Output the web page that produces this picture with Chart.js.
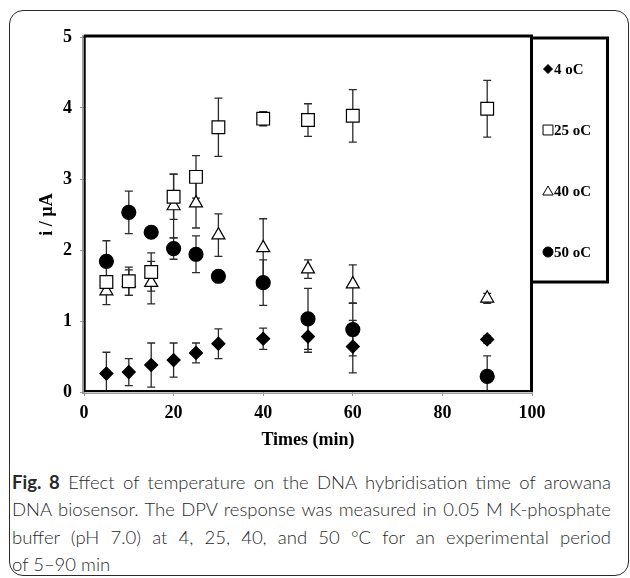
<!DOCTYPE html>
<html>
<head>
<meta charset="utf-8">
<script src="https://cdn.jsdelivr.net/npm/chart.js@4"></script>
<style>
  html, body { margin: 0; padding: 0; background: #fff; }
  body { width: 630px; height: 578px; position: relative; overflow: hidden; }
  .card {
    position: absolute; left: 9px; top: 10px; width: 620px; height: 566px;
    border: 1.5px solid #2a2a2a; border-radius: 14px; box-sizing: border-box;
  }
  #wrap { position: absolute; left: 10px; top: 10px; width: 618px; height: 450px; }
  .caption {
    position: absolute; left: 12px; top: 469px; width: 599px;
    font-family: Lato, "Open Sans", sans-serif; font-weight: 300; font-size: 18.5px; line-height: 27.4px; color: #2a2a2a;
  }
  .caption div { white-space: nowrap; text-align: justify; text-align-last: justify; }
  .caption div.last { text-align: left; text-align-last: left; }
  .caption b { font-weight: 700; }
</style>
</head>
<body>
<div class="card"></div>
<div id="wrap"><canvas id="chart" width="618" height="450"></canvas></div>
<div class="caption">
  <div><b>Fig. 8</b> Effect of temperature on the DNA hybridisation time of arowana</div>
  <div>DNA biosensor. The DPV response was measured in 0.05 M K-phosphate</div>
  <div>buffer (pH 7.0) at 4, 25, 40, and 50 °C for an experimental period</div>
  <div class="last">of 5–90 min</div>
</div>
<script>
// Hybridisation times (min)
const times = [5, 10, 15, 20, 25, 30, 40, 50, 60, 90];

// Mean current (µA) and standard deviation at each temperature
const current4 = [0.26, 0.28, 0.38, 0.45, 0.55, 0.68, 0.75, 0.78, 0.64, 0.74];
const error4   = [0.30, 0.19, 0.31, 0.24, 0.14, 0.21, 0.15, 0.22, 0.37, 0.05];

const current25 = [1.55, 1.56, 1.69, 2.75, 3.03, 3.73, 3.85, 3.83, 3.89, 3.99];
const error25   = [0.08, 0.20, 0.27, 0.32, 0.30, 0.41, 0.10, 0.23, 0.37, 0.40];

const current40 = [1.42, 1.54, 1.54, 2.62, 2.66, 2.21, 2.03, 1.73, 1.52, 1.32];
const error40   = [0.19, 0.18, 0.30, 0.45, 0.35, 0.30, 0.41, 0.13, 0.27, 0.07];

const current50 = [1.84, 2.53, 2.25, 2.02, 1.94, 1.63, 1.54, 1.03, 0.88, 0.22];
const error50   = [0.29, 0.30, 0.07, 0.15, 0.26, 0.08, 0.32, 0.43, 0.37, 0.29];

const seriesLabels = ['4 oC', '25 oC', '40 oC', '50 oC'];
const xTickValues = [0, 20, 40, 60, 80, 100];
const yTickValues = [0, 1, 2, 3, 4, 5];

const serif = "'Liberation Serif', 'Times New Roman', serif";

function points(values) {
  return times.map((t, i) => ({ x: t, y: values[i] }));
}

// Vertical error bars with caps, drawn behind the markers
const errorBars = {
  id: 'errorBars',
  beforeDatasetsDraw(chart) {
    const { ctx, chartArea: a, scales: { x, y } } = chart;
    ctx.save();
    ctx.beginPath();
    ctx.rect(a.left, a.top, a.right - a.left, a.bottom - a.top);
    ctx.clip();
    ctx.strokeStyle = '#2b2b2b';
    ctx.lineWidth = 1.3;
    chart.data.datasets.forEach(ds => {
      ds.data.forEach((p, i) => {
        const e = ds.errors[i];
        const px = x.getPixelForValue(p.x);
        const top = y.getPixelForValue(p.y + e);
        const bot = y.getPixelForValue(p.y - e);
        ctx.beginPath();
        ctx.moveTo(px, top); ctx.lineTo(px, bot);
        ctx.moveTo(px - 4, top); ctx.lineTo(px + 4, top);
        ctx.moveTo(px - 4, bot); ctx.lineTo(px + 4, bot);
        ctx.stroke();
      });
    });
    ctx.restore();
  }
};

// Plot frame: heavy top/right edges, doubled left/bottom axis lines
const plotFrame = {
  id: 'plotFrame',
  beforeDatasetsDraw(chart) {
    const { ctx, chartArea: a } = chart;
    ctx.save();
    ctx.lineCap = 'butt';
    ctx.strokeStyle = '#9a9a9a';
    ctx.lineWidth = 1.4;
    ctx.beginPath();
    ctx.moveTo(a.left - 1.3, a.top - 2); ctx.lineTo(a.left - 1.3, a.bottom + 1.3);
    ctx.lineTo(a.right, a.bottom + 1.3);
    ctx.stroke();
    ctx.strokeStyle = '#000';
    ctx.lineWidth = 2;
    ctx.beginPath();
    ctx.moveTo(a.left + 0.7, a.top - 1); ctx.lineTo(a.left + 0.7, a.bottom - 1);
    ctx.lineTo(a.right, a.bottom - 1);
    ctx.stroke();
    ctx.lineWidth = 3;
    ctx.beginPath();
    ctx.moveTo(a.left - 0.3, a.top - 1); ctx.lineTo(a.right + 1, a.top - 1);
    ctx.moveTo(a.right - 0.5, a.top - 2.5); ctx.lineTo(a.right - 0.5, a.bottom);
    ctx.stroke();
    ctx.restore();
  }
};

// Boxed legend at the right of the plot
const legendBox = {
  id: 'legendBox',
  afterDraw(chart) {
    const { ctx, chartArea: a } = chart;
    const left = a.right - 0.5, top = a.top + 1, w = 76, h = 244;
    ctx.save();
    ctx.strokeStyle = '#000';
    ctx.lineWidth = 3;
    ctx.strokeRect(left, top, w, h);
    ctx.font = 'bold 15px ' + serif;
    ctx.textBaseline = 'middle';
    ctx.textAlign = 'left';
    ctx.fillStyle = '#000';
    const markerSize = [4.5, 7, 6, 5];
    chart.data.datasets.forEach((ds, i) => {
      const cy = top + 31 + i * 61;
      const mx = left + 16.5;
      ctx.fillStyle = ds.pointBackgroundColor;
      ctx.strokeStyle = ds.pointBorderColor;
      ctx.lineWidth = 1;
      Chart.helpers.drawPoint(ctx, { pointStyle: ds.pointStyle, radius: markerSize[i], rotation: 0, borderWidth: 1 }, mx, cy + (ds.pointStyle === 'triangle' ? 1 : 0));
      ctx.fillStyle = '#000';
      ctx.fillText(ds.label, mx + 6, cy + 1);
    });
    ctx.restore();
  }
};

const datasetStyle = (style, fill, radius) => ({
  showLine: false,
  pointStyle: style,
  pointRadius: radius,
  pointHoverRadius: radius,
  pointBackgroundColor: fill,
  pointBorderColor: '#000',
  pointBorderWidth: 1.2
});

new Chart(document.getElementById('chart'), {
  type: 'scatter',
  data: {
    datasets: [
      { label: seriesLabels[0], data: points(current4), errors: error4, ...datasetStyle('rectRot', '#000', 6.5) },
      { label: seriesLabels[1], data: points(current25), errors: error25, ...datasetStyle('rect', '#fff', 9) },
      { label: seriesLabels[2], data: points(current40), errors: error40, ...datasetStyle('triangle', '#fff', 7.5) },
      { label: seriesLabels[3], data: points(current50), errors: error50, ...datasetStyle('circle', '#000', 7) }
    ]
  },
  options: {
    responsive: false,
    animation: false,
    events: [],
    layout: { padding: { top: 27, right: 96, left: 0, bottom: 0 } },
    plugins: { legend: { display: false }, tooltip: { enabled: false } },
    scales: {
      x: {
        type: 'linear',
        min: 0, max: 100,
        afterBuildTicks: s => { s.ticks = xTickValues.map(v => ({ value: v })); },
        afterFit: s => { s.height = 68; },
        border: { display: false },
        grid: { drawOnChartArea: false, drawTicks: true, tickLength: 4, color: '#9a9a9a', lineWidth: 1 },
        ticks: { color: '#000', padding: 7, font: { family: serif, size: 18, weight: 'bold' } },
        title: { display: true, text: 'Times (min)', color: '#000', padding: { top: 0, bottom: 9 },
                 font: { family: serif, size: 18, weight: 'bold' } }
      },
      y: {
        type: 'linear',
        min: 0, max: 5,
        afterBuildTicks: s => { s.ticks = yTickValues.map(v => ({ value: v })); },
        afterFit: s => { s.width = 74; },
        border: { display: false },
        grid: { drawOnChartArea: false, drawTicks: true, tickLength: 4, color: '#9a9a9a', lineWidth: 1 },
        ticks: { color: '#000', padding: 8, font: { family: serif, size: 18, weight: 'bold' } },
        title: { display: true, text: 'i / µA', color: '#000', padding: { top: 27, bottom: 0 },
                 font: { family: serif, size: 18, weight: 'bold' } }
      }
    }
  },
  plugins: [errorBars, plotFrame, legendBox]
});
</script>
</body>
</html>
